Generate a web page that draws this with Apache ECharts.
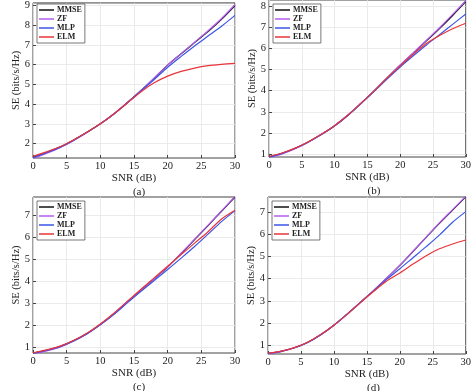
<!DOCTYPE html>
<html><head><meta charset="utf-8">
<script src="https://cdn.jsdelivr.net/npm/echarts@6/dist/echarts.min.js"></script>
<style>html,body{margin:0;padding:0;background:#fff}#c{width:474px;height:391px}</style>
</head><body><div id="c"></div>
<script>
const snr = [0,2,4,6,8,10,12,14,16,18,20,22,24,26,28,30];
const seriesNames = ['MMSE','ZF','MLP','ELM'];
const panelLabels = ['(a)','(b)','(c)','(d)'];
const xTicks = [0,5,10,15,20,25,30];
const yTicksA = [2,3,4,5,6,7,8,9];
const yTicksB = [1,2,3,4,5,6,7,8];
const yTicksC = [1,2,3,4,5,6,7];
const yTicksD = [1,2,3,4,5,6,7];

// (a)
const mmseA = [1.30,1.55,1.82,2.17,2.57,3.00,3.50,4.07,4.68,5.32,5.98,6.55,7.12,7.68,8.30,9.00];
const zfA   = [1.24,1.50,1.79,2.15,2.56,3.00,3.50,4.07,4.68,5.32,5.98,6.56,7.14,7.72,8.34,9.05];
const mlpA  = [1.28,1.54,1.81,2.16,2.56,3.00,3.50,4.07,4.66,5.25,5.87,6.42,6.95,7.45,7.95,8.50];
const elmA  = [1.35,1.58,1.84,2.18,2.57,3.00,3.50,4.06,4.62,5.08,5.42,5.66,5.83,5.95,6.02,6.07];
// (b)
const mmseB = [0.87,1.04,1.28,1.58,1.94,2.35,2.84,3.40,3.98,4.60,5.20,5.77,6.35,6.93,7.55,8.20];
const zfB   = [0.83,1.01,1.26,1.57,1.94,2.35,2.84,3.40,3.98,4.60,5.21,5.79,6.38,6.97,7.60,8.25];
const mlpB  = [0.86,1.04,1.28,1.58,1.93,2.33,2.82,3.38,3.96,4.55,5.12,5.65,6.16,6.64,7.13,7.62];
const elmB  = [0.90,1.06,1.29,1.59,1.94,2.35,2.84,3.40,3.98,4.59,5.17,5.72,6.23,6.60,6.92,7.18];
// (c)
const mmseC = [0.70,0.84,1.01,1.27,1.60,2.02,2.50,3.04,3.58,4.10,4.63,5.25,5.88,6.52,7.17,7.82];
const zfC   = [0.66,0.81,0.99,1.26,1.60,2.02,2.50,3.04,3.58,4.10,4.64,5.26,5.90,6.54,7.19,7.85];
const mlpC  = [0.70,0.84,1.01,1.27,1.59,2.00,2.47,3.00,3.52,4.02,4.52,5.04,5.57,6.13,6.70,7.20];
const elmC  = [0.73,0.86,1.03,1.29,1.62,2.04,2.53,3.07,3.61,4.14,4.67,5.20,5.72,6.24,6.82,7.22];
// (d)
const mmseD = [0.62,0.72,0.88,1.12,1.47,1.90,2.40,2.93,3.46,4.02,4.60,5.23,5.87,6.50,7.10,7.70];
const zfD   = [0.60,0.71,0.87,1.12,1.47,1.90,2.40,2.93,3.46,4.02,4.61,5.24,5.88,6.52,7.12,7.72];
const mlpD  = [0.62,0.72,0.88,1.12,1.47,1.90,2.40,2.92,3.44,3.97,4.45,4.95,5.45,5.97,6.55,7.03];
const elmD  = [0.64,0.73,0.89,1.13,1.48,1.90,2.39,2.91,3.42,3.90,4.26,4.66,5.04,5.35,5.57,5.75];

const panels = [
  {data:[mmseA,zfA,mlpA,elmA], yTicks:yTicksA, min:1.27, max:9.13, grid:{left:33, top:0, width:202, height:158}},
  {data:[mmseB,zfB,mlpB,elmB], yTicks:yTicksB, min:0.87, max:8.28, grid:{left:269, top:0, width:200, height:157}},
  {data:[mmseC,zfC,mlpC,elmC], yTicks:yTicksC, min:0.72, max:7.82, grid:{left:33, top:197, width:202, height:156}},
  {data:[mmseD,zfD,mlpD,elmD], yTicks:yTicksD, min:0.60, max:7.69, grid:{left:268, top:197, width:201, height:157}}
];
const colors = ['#111111','#b45cf0','#3b55e6','#e8343a'];
const FONT = 'Liberation Serif';

const option = {
  animation:false,
  backgroundColor:'#fff',
  grid:[], xAxis:[], yAxis:[], series:[], legend:[], title:[]
};
panels.forEach((p,i)=>{
  option.grid.push(Object.assign({show:true, borderColor:'#444', borderWidth:1, backgroundColor:'#fff', containLabel:false}, p.grid));
  option.xAxis.push({
    type:'value', gridIndex:i, min:0, max:30,
    name:'SNR (dB)', nameLocation:'middle', nameGap:15,
    nameTextStyle:{fontFamily:FONT, fontSize:11, color:'#222'},
    axisLine:{show:false},
    axisTick:{show:true, inside:true, length:3, customValues:xTicks, lineStyle:{color:'#444'}},
    axisLabel:{customValues:xTicks, fontFamily:FONT, fontSize:10.5, color:'#222', margin:3},
    splitLine:{show:true, lineStyle:{color:'#e6e6e6', width:0.8}}
  });
  option.yAxis.push({
    type:'value', gridIndex:i, min:p.min, max:p.max,
    name:'SE (bits/s/Hz)', nameLocation:'middle', nameGap:11, nameRotate:90, nameMoveOverlap:false,
    nameTextStyle:{fontFamily:FONT, fontSize:10.5, color:'#222'},
    axisLine:{show:false},
    axisTick:{show:true, inside:true, length:3, customValues:p.yTicks, lineStyle:{color:'#444'}},
    axisLabel:{customValues:p.yTicks, fontFamily:FONT, fontSize:10.5, color:'#222', margin:3},
    splitLine:{show:true, lineStyle:{color:'#e6e6e6', width:0.8}}
  });
  p.data.forEach((arr,k)=>{
    option.series.push({
      type:'line', name:seriesNames[k], xAxisIndex:i, yAxisIndex:i,
      data: snr.map((x,j)=>[x,arr[j]]),
      showSymbol:false, smooth:0.3, clip:true,
      lineStyle:{color:colors[k], width:1.2}, itemStyle:{color:colors[k]}
    });
  });
  option.legend.push({
    data:seriesNames, orient:'vertical',
    left:p.grid.left+4, top:p.grid.top+4,
    icon:'rect', itemWidth:15, itemHeight:1.5, itemGap:1,
    padding:[2,3,2,2], borderColor:'#555', borderWidth:0.8, backgroundColor:'#fff',
    selectedMode:false,
    textStyle:{fontFamily:FONT, fontSize:8, fontWeight:'bold', color:'#222', lineHeight:8, padding:[0,0,0,-2]}
  });
  option.title.push({
    text:panelLabels[i],
    left:p.grid.left + p.grid.width/2, textAlign:'center',
    top:p.grid.top + p.grid.height + 24,
    textStyle:{fontFamily:FONT, fontSize:11, fontWeight:'normal', color:'#222'}
  });
});
echarts.init(document.getElementById('c'),null,{renderer:'canvas'}).setOption(option);
</script>
</body></html>
